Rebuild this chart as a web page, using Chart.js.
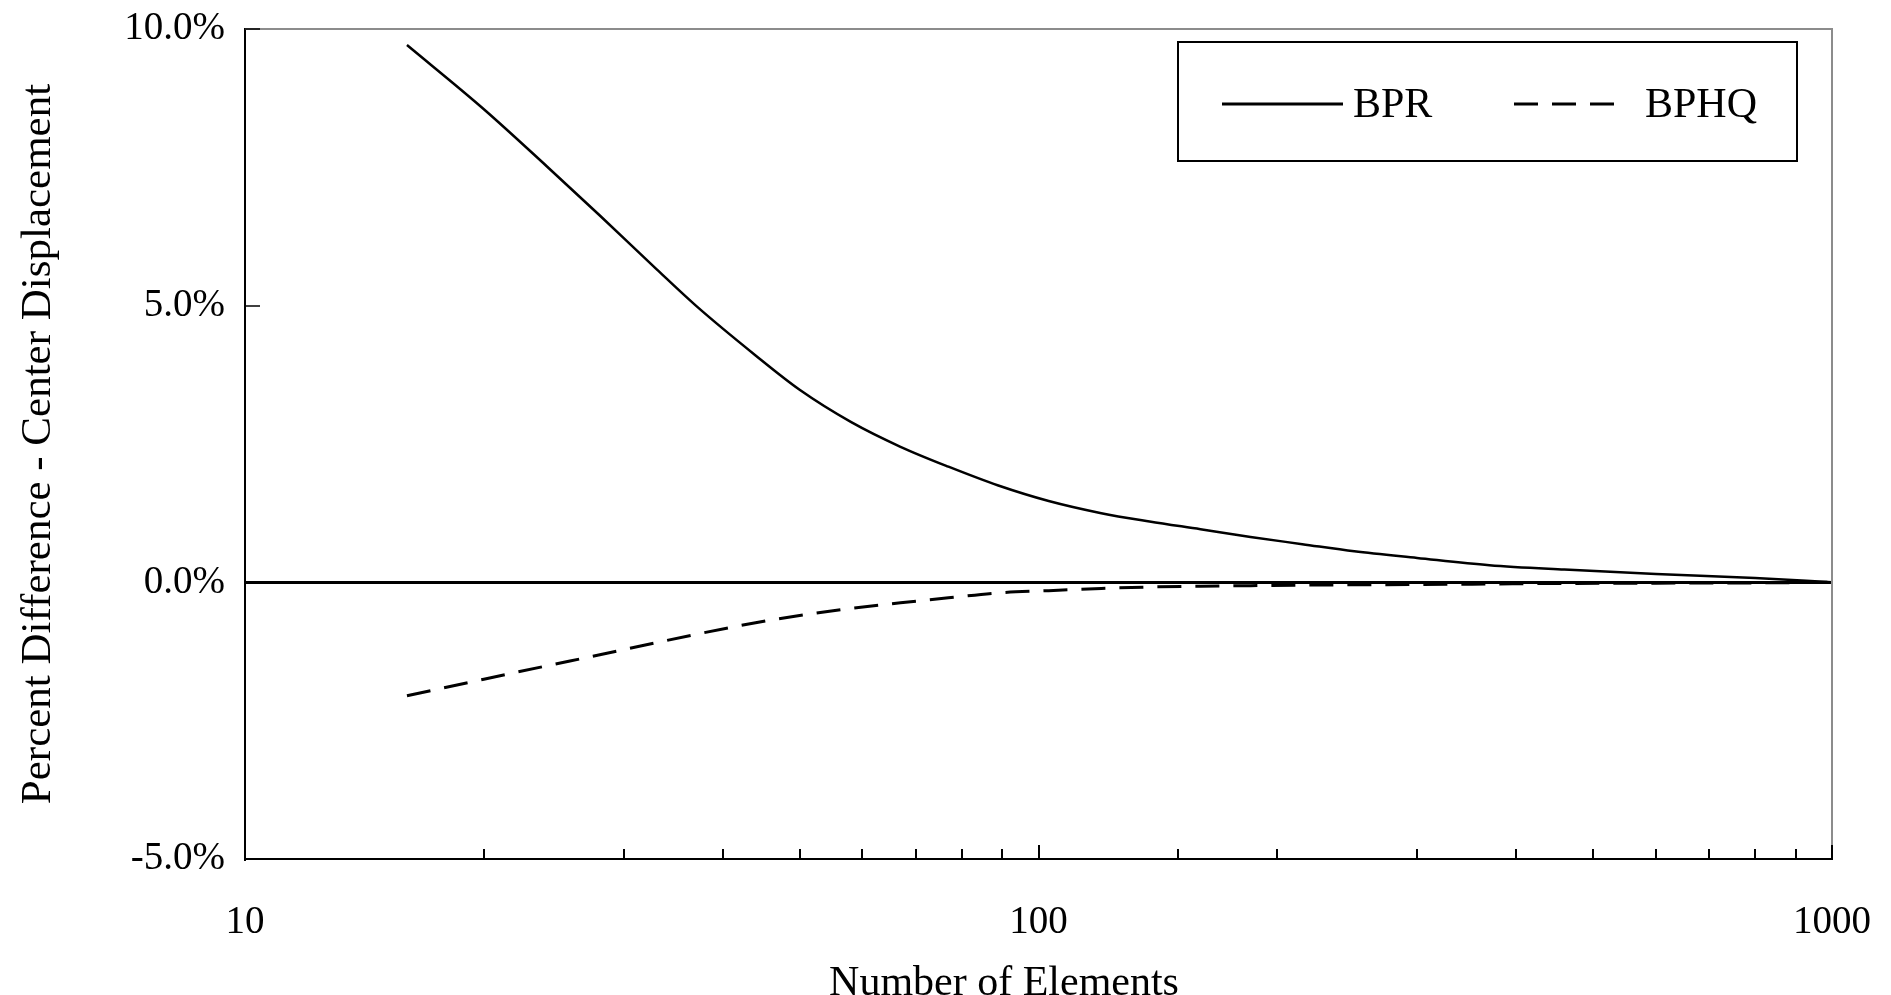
<!DOCTYPE html>
<html>
<head>
<meta charset="utf-8">
<script src="https://cdn.jsdelivr.net/npm/chart.js@4.4.1/dist/chart.umd.min.js"></script>
<style>
    body { margin: 0; background: #fff; }
    #wrap { width: 1891px; height: 995px; }
</style>
</head>
<body>
<div id="wrap"><canvas id="myChart" width="1891" height="995"></canvas></div>
<script>
// number of elements (x, log axis)
const elements = [16, 20, 24, 28, 33, 37, 44, 50, 58, 67, 77, 89, 103, 120, 138, 160, 185, 215, 250, 300, 370, 460, 600, 800, 1000];
// percent difference, center displacement
const bprValues = [9.71, 8.55, 7.52, 6.63, 5.66, 5.00, 4.10, 3.48, 2.90, 2.45, 2.09, 1.75, 1.47, 1.25, 1.10, 0.96, 0.82, 0.69, 0.56, 0.44, 0.31, 0.23, 0.15, 0.08, 0.0];
const bphqValues = [-2.05, -1.75, -1.51, -1.31, -1.09, -0.94, -0.73, -0.60, -0.47, -0.37, -0.28, -0.19, -0.15, -0.11, -0.085, -0.07, -0.06, -0.05, -0.045, -0.04, -0.03, -0.02, -0.015, -0.01, 0.0];
const xLabels = [10, 100, 1000];
const yTicks = [-5, 0, 5, 10];
const xTitle = "Number of Elements";

const serif = "'Liberation Serif', 'Times New Roman', serif";

// drop the extra room chart.js keeps for overhanging tick labels
function noLabelPadding(scale) {
    scale.paddingTop = 0;
    scale.paddingBottom = 0;
    scale.paddingLeft = 0;
    scale.paddingRight = 0;
}

// inner tick marks + gray frame on top/right
const frameTicks = {
    id: "frameTicks",
    afterDatasetsDraw(chart) {
        const {ctx, chartArea: a, scales: {x, y}} = chart;
        ctx.save();
        ctx.strokeStyle = "#8c8c8c";
        ctx.lineWidth = 2;
        ctx.beginPath();
        ctx.moveTo(a.left, a.top);
        ctx.lineTo(a.right, a.top);
        ctx.lineTo(a.right, a.bottom);
        ctx.stroke();

        ctx.strokeStyle = "#000";
        ctx.lineWidth = 2;
        x.ticks.forEach(t => {
            const px = Math.round(x.getPixelForValue(t.value));
            const len = xLabels.includes(t.value) ? 14 : 10;
            ctx.beginPath();
            ctx.moveTo(px, a.bottom);
            ctx.lineTo(px, a.bottom - len);
            ctx.stroke();
        });
        ctx.lineWidth = 1.5;
        y.ticks.forEach(t => {
            const py = Math.round(y.getPixelForValue(t.value));
            ctx.beginPath();
            ctx.moveTo(a.left, py);
            ctx.lineTo(a.left + 15, py);
            ctx.stroke();
        });
        ctx.restore();
    }
};

// x axis title, sits a little left of the plot centre in the original
const xTitlePlugin = {
    id: "xTitlePlugin",
    afterDraw(chart) {
        const ctx = chart.ctx;
        ctx.save();
        ctx.font = "42px " + serif;
        ctx.fillStyle = "#000";
        ctx.textAlign = "center";
        ctx.textBaseline = "middle";
        ctx.fillText(xTitle, 1004, 984);
        ctx.restore();
    }
};

// boxed legend in the upper right
const boxLegend = {
    id: "boxLegend",
    afterDraw(chart) {
        const ctx = chart.ctx;
        const ds = chart.data.datasets;
        ctx.save();
        ctx.fillStyle = "#fff";
        ctx.fillRect(1178, 42, 619, 119);
        ctx.strokeStyle = "#000";
        ctx.lineWidth = 2;
        ctx.strokeRect(1178, 42, 619, 119);

        const items = [
            {x0: 1222, x1: 1343, tx: 1353},
            {x0: 1514, x1: 1626, tx: 1645},
        ];
        ctx.font = "42px " + serif;
        ctx.textBaseline = "middle";
        items.forEach((it, i) => {
            ctx.setLineDash(ds[i].borderDash || []);
            ctx.lineWidth = 3;
            ctx.strokeStyle = ds[i].borderColor;
            ctx.beginPath();
            ctx.moveTo(it.x0, 104);
            ctx.lineTo(it.x1, 104);
            ctx.stroke();
            ctx.setLineDash([]);
            ctx.fillStyle = "#000";
            ctx.fillText(ds[i].label, it.tx, 106);
        });
        ctx.restore();
    }
};

let ctx = document.getElementById("myChart").getContext("2d");

let myChart = new Chart(ctx, {
    type: "line",
    data: {
        labels: elements,
        datasets: [
            {
                label: "BPR",
                data: elements.map((e, i) => ({x: e, y: bprValues[i]})),
                borderColor: "#000",
                borderWidth: 2.5,
                pointRadius: 0,
                fill: false,
                cubicInterpolationMode: "monotone",
            },
            {
                label: "BPHQ",
                data: elements.map((e, i) => ({x: e, y: bphqValues[i]})),
                borderColor: "#000",
                borderWidth: 3,
                borderDash: [24, 14],
                pointRadius: 0,
                fill: false,
                cubicInterpolationMode: "monotone",
            },
        ],
    },
    options: {
        responsive: false,
        animation: false,
        layout: {padding: {top: 29, right: 59, bottom: 0, left: 0}},
        plugins: {
            legend: {display: false},
            tooltip: {enabled: false},
        },
        scales: {
            x: {
                type: "logarithmic",
                min: 10,
                max: 1000,
                afterFit(scale) { scale.height = 136; noLabelPadding(scale); },
                grid: {display: false, drawTicks: false},
                border: {color: "#000", width: 2},
                ticks: {
                    autoSkip: false,
                    maxRotation: 0,
                    padding: 40,
                    color: "#000",
                    font: {family: serif, size: 39},
                    callback: (v) => xLabels.includes(v) ? String(v) : "",
                },
                title: {display: false},
            },
            y: {
                min: -5,
                max: 10,
                afterFit(scale) { scale.width = 245; noLabelPadding(scale); },
                afterBuildTicks(scale) { scale.ticks = yTicks.map(v => ({value: v})); },
                grid: {
                    drawTicks: false,
                    lineWidth: 3,
                    color: (c) => c.tick && c.tick.value === 0 ? "#000" : "rgba(0,0,0,0)",
                },
                border: {color: "#000", width: 2},
                ticks: {
                    padding: 20,
                    color: "#000",
                    font: {family: serif, size: 39},
                    callback: (v) => v.toFixed(1) + "%",
                },
                title: {
                    display: true,
                    text: "Percent Difference - Center Displacement",
                    color: "#000",
                    font: {family: serif, size: 43},
                    padding: {top: 13, bottom: 0},
                },
            },
        },
    },
    plugins: [frameTicks, xTitlePlugin, boxLegend],
});
</script>
</body>
</html>
